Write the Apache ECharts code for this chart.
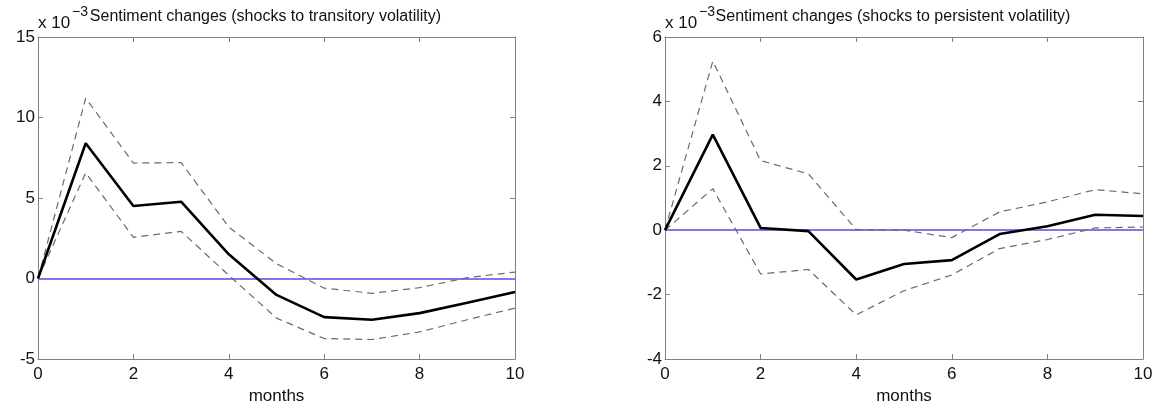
<!DOCTYPE html>
<html>
<head>
<meta charset="utf-8">
<script src="https://cdn.jsdelivr.net/npm/echarts@6/dist/echarts.min.js"></script>
<style>
html,body{margin:0;padding:0;background:#fff;}
#c{width:1167px;height:411px;}
</style>
</head>
<body>
<div id="c"></div>
<script>
// ---- data ----
const months = [0, 1, 2, 3, 4, 5, 6, 7, 8, 9, 10];
const xTicks = [0, 2, 4, 6, 8, 10];

const titleLeft = 'Sentiment changes (shocks to transitory volatility)';
const titleRight = 'Sentiment changes (shocks to persistent volatility)';
const xName = 'months';
const expBase = 'x 10';
const expPow = '\u22123';

// left panel (x 10^-3)
const transMid   = [0, 8.4, 4.5, 4.77, 1.5, -1.02, -2.4, -2.56, -2.15, -1.5, -0.84];
const transUpper = [0, 11.2, 7.17, 7.2, 3.2, 0.92, -0.6, -0.92, -0.57, 0.05, 0.4];
const transLower = [0, 6.56, 2.56, 2.93, 0.2, -2.46, -3.73, -3.79, -3.32, -2.56, -1.84];

// right panel (x 10^-3)
const persMid   = [0, 2.97, 0.07, -0.03, -1.53, -1.05, -0.93, -0.12, 0.12, 0.48, 0.44];
const persUpper = [0, 5.25, 2.16, 1.75, 0.02, 0.0, -0.23, 0.57, 0.88, 1.26, 1.13];
const persLower = [0, 1.29, -1.36, -1.22, -2.63, -1.88, -1.39, -0.57, -0.29, 0.07, 0.1];

const yLeft = {min: -5, max: 15, interval: 5};
const yRight = {min: -4, max: 6, interval: 2};

// ---- chart ----
const FONT = '"Liberation Sans", Arial, sans-serif';
const AXC = '#808080';
const pairs = (ys) => months.map((m, i) => [m, ys[i]]);

const grids = [
  {left: 38, right: 652, top: 37, bottom: 52},
  {left: 665, right: 24, top: 37, bottom: 52}
];

function xAxes(gi) {
  return [
    {
      type: 'value', gridIndex: gi, min: 0, max: 10, interval: 2, position: 'bottom',
      name: xName, nameLocation: 'middle', nameGap: 29,
      nameTextStyle: {fontFamily: FONT, fontSize: 17, color: '#111'},
      axisLine: {show: true, onZero: false, lineStyle: {color: AXC, width: 1}},
      axisTick: {show: true, inside: true, length: 5, lineStyle: {color: AXC}},
      axisLabel: {show: true, margin: 7, fontFamily: FONT, fontSize: 17, color: '#111',
        formatter: v => xTicks.includes(v) ? String(v) : ''},
      splitLine: {show: false}
    },
    {
      type: 'value', gridIndex: gi, min: 0, max: 10, interval: 2, position: 'top',
      axisLine: {show: true, onZero: false, lineStyle: {color: AXC, width: 1}},
      axisTick: {show: true, inside: true, length: 5, lineStyle: {color: AXC}},
      axisLabel: {show: false},
      splitLine: {show: false}
    }
  ];
}

function yAxes(gi, r) {
  return [
    {
      type: 'value', gridIndex: gi, min: r.min, max: r.max, interval: r.interval, position: 'left',
      axisLine: {show: true, onZero: false, lineStyle: {color: AXC, width: 1}},
      axisTick: {show: true, inside: true, length: 5, lineStyle: {color: AXC}},
      axisLabel: {show: true, margin: 3, fontFamily: FONT, fontSize: 17, color: '#111'},
      splitLine: {show: false}
    },
    {
      type: 'value', gridIndex: gi, min: r.min, max: r.max, interval: r.interval, position: 'right',
      axisLine: {show: true, onZero: false, lineStyle: {color: AXC, width: 1}},
      axisTick: {show: true, inside: true, length: 5, lineStyle: {color: AXC}},
      axisLabel: {show: false},
      splitLine: {show: false}
    }
  ];
}

function dashed(ys, xi, yi) {
  return {
    type: 'line', xAxisIndex: xi, yAxisIndex: yi, data: pairs(ys), symbol: 'none',
    lineStyle: {color: '#6a6a6a', width: 1.2, type: [7, 5]}, z: 3, silent: true
  };
}
function solid(ys, xi, yi) {
  return {
    type: 'line', xAxisIndex: xi, yAxisIndex: yi, data: pairs(ys), symbol: 'none',
    lineStyle: {color: '#000', width: 2.6}, z: 4, silent: true,
    markLine: {
      silent: true, symbol: ['none', 'none'], label: {show: false},
      lineStyle: {color: '#7b7bea', width: 2, type: 'solid'},
      data: [{yAxis: 0}], z: 2
    }
  };
}

const chart = echarts.init(document.getElementById('c'), null, {renderer: 'canvas'});

function headerTexts(left, right, title) {
  const center = (left + right) / 2 - 11;
  return [
    {type: 'text', x: left, y: 23, z: 10,
      style: {text: expBase, font: '17px ' + FONT, fill: '#111', textVerticalAlign: 'middle'}},
    {type: 'text', x: left + 34, y: 12, z: 10,
      style: {text: expPow, font: '14px ' + FONT, fill: '#111', textVerticalAlign: 'middle'}},
    {type: 'text', x: center, y: 17, z: 11,
      style: {text: title, font: '16px ' + FONT, fill: '#111', textAlign: 'center', textVerticalAlign: 'middle'}}
  ];
}

chart.setOption({
  animation: false,
  backgroundColor: '#fff',
  grid: grids,
  xAxis: [...xAxes(0), ...xAxes(1)],
  yAxis: [...yAxes(0, yLeft), ...yAxes(1, yRight)],
  series: [
    dashed(transUpper, 0, 0),
    dashed(transLower, 0, 0),
    solid(transMid, 0, 0),
    dashed(persUpper, 2, 2),
    dashed(persLower, 2, 2),
    solid(persMid, 2, 2)
  ],
  graphic: [
    ...headerTexts(38, 515, titleLeft),
    ...headerTexts(665, 1143, titleRight)
  ]
});
</script>
</body>
</html>
